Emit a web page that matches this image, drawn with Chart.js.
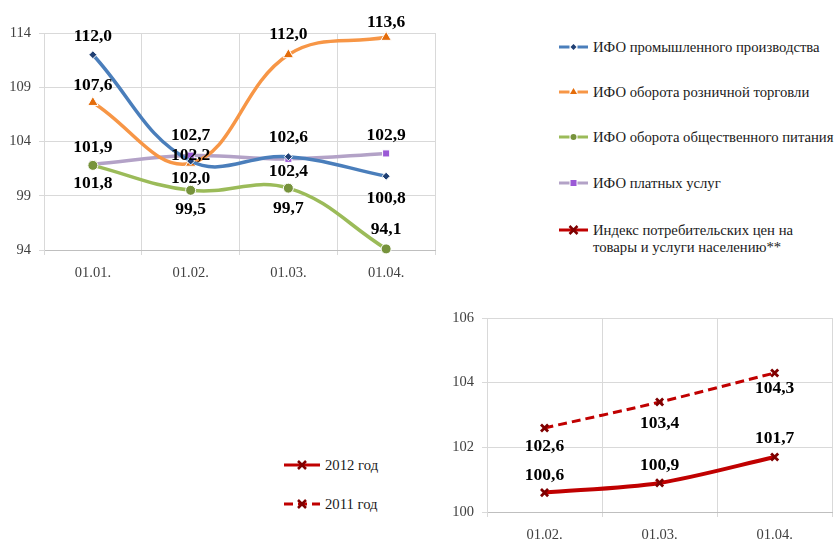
<!DOCTYPE html>
<html>
<head>
<meta charset="utf-8">
<script src="https://cdn.jsdelivr.net/npm/chart.js@4.4.1/dist/chart.umd.min.js"></script>
<style>
    body { margin: 0; width: 835px; height: 539px; overflow: hidden; background: #fff; position: relative;
           font-family: 'Liberation Serif', 'Times New Roman', serif; color: #1a1a1a; }
    #c1 { position: absolute; left: 0; top: 0; }
    #c2 { position: absolute; left: 440px; top: 300px; }
    .leg { position: absolute; font-size: 14.7px; line-height: 17px; display: flex; align-items: flex-start;
           white-space: nowrap; }
    .leg svg { flex: none; margin-right: 5px; margin-top: 3.5px; }
</style>
</head>
<body>
<canvas id="c1" width="445" height="290"></canvas>
<canvas id="c2" width="400" height="239"></canvas>
<div id="legends"></div>

<script>
// ---- data ----
const months1 = ['01.01.', '01.02.', '01.03.', '01.04.'];
const industry = [112.0, 102.2, 102.6, 100.8];
const retail = [107.6, 102.0, 112.0, 113.6];
const catering = [101.8, 99.5, 99.7, 94.1];
const services = [101.9, 102.7, 102.4, 102.9];
const yTicks1 = [94, 99, 104, 109, 114];

const months2 = ['01.02.', '01.03.', '01.04.'];
const cpi2012 = [100.6, 100.9, 101.7];
const cpi2011 = [102.6, 103.4, 104.3];
const yTicks2 = [100, 102, 104, 106];

const names1 = ['ИФО промышленного производства', 'ИФО оборота розничной торговли',
    'ИФО оборота общественного питания', 'ИФО платных услуг',
    'Индекс потребительских цен на<br>товары и услуги населению**'];
const names2 = ['2012 год', '2011 год'];

// label offsets (px, relative to the point)
const off = {
    industry: [-18, -6, -19, 22],
    retail: [-17, 15, -20, -15],
    catering: [18, 19, 20, -19],
    services: [-17, -20, 13, -18],
    cpi2012: [-17, -17, -19],
    cpi2011: [19, 21, 16]
};

const fmt = v => v.toFixed(1).replace('.', ',');

const valueLabels = {
    id: 'valueLabels',
    afterDatasetsDraw(chart) {
        const ctx = chart.ctx;
        ctx.save();
        ctx.font = 'bold 17.5px "Liberation Serif", serif';
        ctx.fillStyle = '#000';
        ctx.textAlign = 'center';
        ctx.textBaseline = 'middle';
        chart.data.datasets.forEach((ds, i) => {
            const meta = chart.getDatasetMeta(i);
            meta.data.forEach((pt, j) => {
                ctx.fillText(fmt(ds.data[j]), pt.x, pt.y + ds.labelOffsets[j]);
            });
        });
        ctx.restore();
    }
};

function axes(ticks, yWidth, xHeight) {
    const tickFont = { family: '"Liberation Serif", serif', size: 14.5 };
    return {
        x: {
            offset: true,
            grid: { offset: true, color: '#d9d9d9', tickLength: 5 },
            border: { color: '#bfbfbf' },
            ticks: { color: '#404040', font: tickFont, padding: 9, maxRotation: 0 },
            afterFit: s => { s.height = xHeight; }
        },
        y: {
            min: ticks[0],
            max: ticks[ticks.length - 1],
            grid: { color: '#d9d9d9', tickLength: 5 },
            border: { color: '#d9d9d9' },
            ticks: { stepSize: ticks[1] - ticks[0], color: '#404040', font: tickFont, padding: 8 },
            afterFit: s => { s.width = yWidth; }
        }
    };
}

function line(label, data, color, width, style, radius, mColor, offsets, extra) {
    return Object.assign({
        label, data,
        borderColor: color,
        borderWidth: width,
        pointStyle: style,
        pointRadius: radius,
        pointHoverRadius: radius,
        pointBackgroundColor: mColor,
        pointBorderColor: '#fff',
        pointBorderWidth: 1,
        tension: 0.4,
        fill: false,
        clip: false,
        labelOffsets: offsets
    }, extra || {});
}

new Chart(document.getElementById('c1'), {
    type: 'line',
    data: {
        labels: months1,
        datasets: [
            line(names1[0], industry, '#4A7EBB', 3.5, 'rectRot', 4, '#1F3F73', off.industry),
            line(names1[1], retail, '#F79646', 3.5, 'triangle', 6, '#E46C0A', off.retail),
            line(names1[2], catering, '#9BBB59', 3.5, 'circle', 5, '#77933C', off.catering),
            line(names1[3], services, '#B3A2C7', 3.5, 'rect', 5, '#9B59D6', off.services)
        ]
    },
    options: {
        responsive: false,
        animation: false,
        layout: { padding: { top: 33, right: 10, left: 0, bottom: 0 } },
        plugins: { legend: { display: false }, tooltip: { enabled: false } },
        scales: axes(yTicks1, 44, 40)
    },
    plugins: [valueLabels]
});

const crossOpts = { pointBorderColor: '#7F0000', pointBorderWidth: 2.8, pointBackgroundColor: '#7F0000' };

new Chart(document.getElementById('c2'), {
    type: 'line',
    data: {
        labels: months2,
        datasets: [
            line(names2[0], cpi2012, '#C00000', 4, 'crossRot', 5, '#7F0000', off.cpi2012,
                Object.assign({ tension: 0.3 }, crossOpts)),
            line(names2[1], cpi2011, '#C00000', 3, 'crossRot', 5, '#7F0000', off.cpi2011,
                Object.assign({ tension: 0.3, borderDash: [9, 5] }, crossOpts))
        ]
    },
    options: {
        responsive: false,
        animation: false,
        layout: { padding: { top: 18, right: 0, left: 0, bottom: 0 } },
        plugins: { legend: { display: false }, tooltip: { enabled: false } },
        scales: axes(yTicks2, 47, 27)
    },
    plugins: [valueLabels]
});

// ---- legends (html) ----
function marker(kind, cx, cy, c) {
    if (kind === 'rectRot') return `<polygon points="${cx},${cy - 3} ${cx + 3},${cy} ${cx},${cy + 3} ${cx - 3},${cy}" fill="${c}"/>`;
    if (kind === 'triangle') return `<polygon points="${cx},${cy - 4} ${cx + 3.5},${cy + 2} ${cx - 3.5},${cy + 2}" fill="${c}"/>`;
    if (kind === 'circle') return `<circle cx="${cx}" cy="${cy}" r="3" fill="${c}"/>`;
    if (kind === 'rect') return `<rect x="${cx - 3}" y="${cy - 3}" width="6" height="6" fill="${c}"/>`;
    return `<path d="M${cx - 4} ${cy - 4}L${cx + 4} ${cy + 4}M${cx + 4} ${cy - 4}L${cx - 4} ${cy + 4}" stroke="${c}" stroke-width="2.5"/>`;
}

function icon(w, color, kind, mColor, gap, dash) {
    const cy = 5, cx = w / 2;
    let lines;
    if (gap) {
        lines = `<line x1="0" y1="${cy}" x2="${cx - gap}" y2="${cy}" stroke="${color}" stroke-width="3"/>` +
                `<line x1="${cx + gap}" y1="${cy}" x2="${w}" y2="${cy}" stroke="${color}" stroke-width="3"/>`;
    } else {
        lines = `<line x1="0" y1="${cy}" x2="${w}" y2="${cy}" stroke="${color}" stroke-width="3"` +
                (dash ? ` stroke-dasharray="${dash}"` : '') + `/>`;
    }
    return `<svg width="${w}" height="10">${lines}${marker(kind, cx, cy, mColor)}</svg>`;
}

const legendItems = [
    { text: names1[0], x: 559, y: 38.5, svg: icon(29, '#4A7EBB', 'rectRot', '#1F3F73', 4) },
    { text: names1[1], x: 559, y: 83.5, svg: icon(29, '#F79646', 'triangle', '#E46C0A', 4) },
    { text: names1[2], x: 559, y: 128.5, svg: icon(29, '#9BBB59', 'circle', '#77933C', 4) },
    { text: names1[3], x: 559, y: 174.5, svg: icon(29, '#B3A2C7', 'rect', '#9B59D6', 4) },
    { text: names1[4], x: 559, y: 221.5, svg: icon(29, '#C00000', 'cross', '#7F0000', 0) },
    { text: names2[0], x: 284, y: 456.5, svg: icon(36, '#C00000', 'cross', '#7F0000', 0) },
    { text: names2[1], x: 284, y: 495.5, svg: icon(36, '#C00000', 'cross', '#7F0000', 0, '9,5') }
];

document.getElementById('legends').innerHTML = legendItems.map(it =>
    `<div class="leg" style="left:${it.x}px;top:${it.y}px">${it.svg}<span>${it.text}</span></div>`
).join('');
</script>
</body>
</html>
